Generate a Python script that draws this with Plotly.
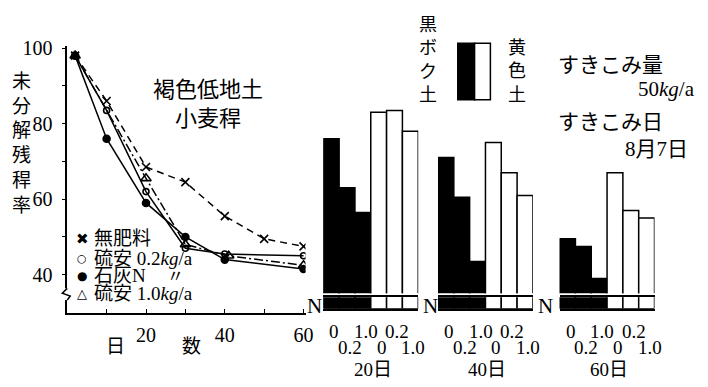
import plotly.graph_objects as go

W, H = 708, 387


def px(x):
    return x / W


def py(y):
    return 1 - y / H


# ---------------- data ----------------
series_names = ["無肥料", "硫安 0.2<i>kg</i>/a", "石灰N", "硫安 1.0<i>kg</i>/a"]
days_none = [2, 10, 20, 30, 40, 50, 60]
resid_none = [98, 86, 68.5, 64.5, 55.5, 49.5, 47.5]
days_am02 = [2, 10, 20, 30, 40, 60]
resid_am02 = [98, 83.5, 62, 47, 45.5, 45]
days_lime = [2, 10, 20, 30, 40, 60]
resid_lime = [98, 76, 59, 50, 44, 41.5]
days_am10 = [2, 20, 30, 41, 60]
resid_am10 = [98, 65.5, 48, 45, 42.5]

y_ticks = [40, 50, 60, 70, 80, 90, 100]
y_ticktext = ["40", "", "60", "", "80", "", "100"]
x_ticks = [10, 20, 30, 40, 50, 60]
x_ticktext = ["", "20", "", "40", "", "60"]

bar_days = ["20日", "40日", "60日"]
n_rates = ["0", "0.2", "1.0"]
soils = ["黒ボク土", "黄色土"]
kuroboku = [[76, 63, 56.5], [71, 60.5, 43.5], [49.5, 47.5, 39]]
oushoku = [[83, 83.5, 78], [75, 67, 61], [67, 57, 55]]

SERIF = "Liberation Serif, Noto Sans CJK JP"
JP = "Noto Sans CJK JP"
INK = "black"

fig = go.Figure()

# ---------------- line chart ----------------
line_specs = [
    (days_none, resid_none, "7px,5px", "x-thin-open", 8),
    (days_am02, resid_am02, "solid", "circle-open", 6),
    (days_lime, resid_lime, "solid", "circle", 7),
    (days_am10, resid_am10, "9px,3px,2px,3px", "triangle-up-open", 9),
]
for name, (xs, ys, dash, sym, size) in zip(series_names, line_specs):
    fig.add_trace(go.Scatter(
        x=xs, y=ys, name=name, mode="lines+markers", showlegend=False,
        line=dict(color=INK, width=1.5, dash=dash),
        marker=dict(symbol=sym, size=size, color=INK,
                    line=dict(color=INK, width=1.6)),
        xaxis="x", yaxis="y",
    ))

# ---------------- bar charts ----------------
cats = [s + " " + n for s in soils for n in n_rates]
xaxes = ["x2", "x3", "x4"]
for gi, xa in enumerate(xaxes):
    for soil, vals, fill in ((soils[0], kuroboku[gi], INK), (soils[1], oushoku[gi], "white")):
        for ya in ("y2", "y3"):
            fig.add_trace(go.Bar(
                x=[soil + " " + n for n in n_rates], y=vals, width=1,
                marker=dict(color=fill, line=dict(color=INK, width=1.5)),
                showlegend=False, xaxis=xa, yaxis=ya, name=soil,
            ))

# ---------------- layout / axes ----------------
layout = dict(
    width=W, height=H, margin=dict(l=0, r=0, t=0, b=0),
    paper_bgcolor="white", plot_bgcolor="white", barmode="overlay",
    showlegend=False,
    font=dict(family=SERIF, color=INK),
    xaxis=dict(domain=[px(68), px(309)], range=[0, 60.5], anchor="y",
               showline=True, linecolor=INK, linewidth=1.5, showgrid=False,
               zeroline=False, ticks="inside", ticklen=4, tickwidth=1.2,
               tickcolor=INK, tickvals=x_ticks, ticktext=x_ticktext,
               tickfont=dict(family=SERIF, size=20), ticklabelstandoff=3),
    yaxis=dict(domain=[py(311), py(38)], range=[29.92, 100.52], anchor="x",
               showline=True, linecolor=INK, linewidth=1.5, showgrid=False,
               zeroline=False, ticks="outside", ticklen=3, tickwidth=1.2,
               tickcolor=INK, tickvals=y_ticks, ticktext=y_ticktext,
               tickfont=dict(family=SERIF, size=20), ticklabelstandoff=6),
    yaxis2=dict(domain=[py(291), py(40)], range=[35.1, 100], anchor="x2",
                visible=False, fixedrange=True),
    yaxis3=dict(domain=[py(307), py(295)], range=[0, 1], anchor="x2",
                visible=False, fixedrange=True),
)
group_px = [(327, 423), (443, 539), (566, 662)]
for i, (a, b) in enumerate(group_px):
    key = "xaxis" + str(i + 2)
    layout[key] = dict(domain=[px(a), px(b)], anchor="y3", type="category",
                       categoryorder="array", categoryarray=cats,
                       range=[-0.5, 5.5], showline=True, mirror=True,
                       linecolor=INK, linewidth=1.5, showgrid=False,
                       zeroline=False, showticklabels=False, ticks="")
fig.update_layout(**layout)

ann = []


def text(x, y, t, size, family=JP, xanchor="center", yanchor="middle", **kw):
    ann.append(dict(x=px(x), y=py(y), xref="paper", yref="paper", text=t,
                    showarrow=False, xanchor=xanchor, yanchor=yanchor,
                    font=dict(size=size, family=family, color=INK), **kw))


# y-axis title (vertical)
text(22, 136, "<br>".join("未分解残稈率"), 19)
# x-axis title
text(155, 343, "日　　　数", 19)
# chart title
text(210, 95, "褐色低地土<br>小麦稈", 22)

# line chart legend
legend_syms = [("✖", 15), ("○", 11), ("●", 12), ("△", 13)]
legend_rows = [235, 255, 273, 291]
for (sym, ssize), name, yy in zip(legend_syms, series_names, legend_rows):
    text(83, yy, sym, ssize, family="DejaVu Sans")
    text(93, yy, name, 19, family=SERIF, xanchor="left")
text(178, 272, "〃", 17)

# bar labels
for gi, xa in enumerate(xaxes):
    for ci, c in enumerate(cats):
        row_y = 330 if ci % 2 == 0 else 347
        ann.append(dict(x=c, y=py(row_y), xref=xa, yref="paper",
                        text=n_rates[ci % 3], showarrow=False, xshift=3,
                        xanchor="center", yanchor="middle",
                        font=dict(size=19, family=SERIF, color=INK)))
    a, b = group_px[gi]
    text((a + b) / 2 + 2, 369, bar_days[gi], 19, family=SERIF)

# N labels beside stubs
for xN in (318, 435, 552):
    text(xN, 304, "N", 21, family=SERIF)

# soil legend
text(433, 50, "<br>".join(soils[0]), 18)
text(523, 62, "<br>".join(soils[1]), 18)

# incorporation notes
text(562, 55, "すきこみ量", 21, xanchor="left")
text(705, 82, "50<i>kg</i>/a", 21, family=SERIF, xanchor="right")
text(562, 114, "すきこみ日", 21, xanchor="left")
text(698, 143, "8月7日", 21, family=SERIF, xanchor="right")

fig.update_layout(annotations=ann)

shapes = [
    # soil swatch
    dict(type="rect", xref="paper", yref="paper", x0=px(463), x1=px(480),
         y0=py(93), y1=py(35), fillcolor=INK, line=dict(color=INK, width=1.5)),
    dict(type="rect", xref="paper", yref="paper", x0=px(480), x1=px(496),
         y0=py(93), y1=py(35), fillcolor="white", line=dict(color=INK, width=1.5)),
    # axis break on the y axis
    dict(type="rect", xref="paper", yref="paper", x0=px(60), x1=px(76),
         y0=py(298), y1=py(286), fillcolor="white", line=dict(width=0),
         layer="above"),
    dict(type="path", xref="paper", yref="paper", layer="above",
         path="M {},{} L {},{} L {},{} L {},{}".format(
             px(68), py(286), px(63), py(291), px(71), py(294), px(68), py(298)),
         line=dict(color=INK, width=1.5)),
]
fig.update_layout(shapes=shapes)

post = (
    "document.documentElement.style.margin='0';"
    "document.body.style.margin='0';document.body.style.overflow='hidden';"
    "var gd=document.querySelector('.plotly-graph-div');"
    "gd.style.position='fixed';gd.style.top='0px';gd.style.left='0px';"
)
fig.write_html("out.html", config={"displayModeBar": False}, post_script=post)
